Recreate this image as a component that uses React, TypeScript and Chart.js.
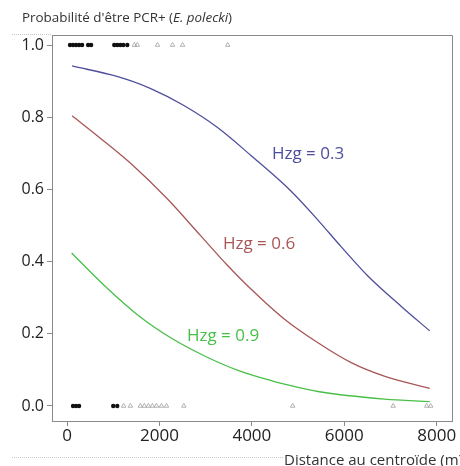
import React, { useEffect, useRef } from "react";
import { Chart, registerables } from "chart.js";

Chart.register(...registerables);

// Fitted curves
const blueDist = [110, 1080, 1800, 2520, 3250, 3980, 4850, 5430, 5940, 6510, 7240, 7850];
const blueProb = [0.942, 0.913, 0.88, 0.833, 0.772, 0.694, 0.595, 0.515, 0.44, 0.36, 0.275, 0.208];

const redDist = [110, 720, 1440, 2170, 2890, 3470, 3980, 4700, 5430, 6150, 6880, 7850];
const redProb = [0.804, 0.742, 0.665, 0.574, 0.472, 0.39, 0.324, 0.241, 0.175, 0.12, 0.082, 0.049];

const greenDist = [100, 830, 1550, 2280, 3000, 3730, 4450, 4960, 5430, 6870, 7850];
const greenProb = [0.424, 0.331, 0.25, 0.186, 0.137, 0.097, 0.069, 0.053, 0.04, 0.019, 0.012];

// Observations
const posDots = [65, 130, 196, 261, 326, 457, 522, 1022, 1087, 1152, 1217, 1304];
const posTriangles = [1457, 1522, 1957, 2283, 2500, 3478];
const negDots = [130, 196, 261, 1000, 1087];
const negTriangles = [1225, 1370, 1587, 1674, 1761, 1848, 1935, 2043, 2152, 2528, 4884, 7058, 7783, 7870];

const xTicks = [0, 2000, 4000, 6000, 8000];
const yTicks = [0, 0.2, 0.4, 0.6, 0.8, 1.0];

const curveLabels = ["Hzg = 0.3", "Hzg = 0.6", "Hzg = 0.9"];
const curveColors = ["#4e4e9c", "#a85656", "#48c048"];
const labelDist = [5215, 4155, 3376];
const labelProb = [0.697, 0.447, 0.192];

const titleText = "Probabilité d'être PCR+ (";
const titleItalic = "E. polecki";
const xTitle = "Distance au centroïde (m)";

const FONT = "'Open Sans', 'Noto Sans', sans-serif";

const pts = (xs: number[], ys: number[]) => xs.map((x, i) => ({ x, y: ys[i] }));
const constPts = (xs: number[], y: number) => xs.map((x) => ({ x, y }));

const decorPlugin = {
  id: "decor",
  afterDraw(chart: any) {
    const { ctx, chartArea, scales } = chart;
    ctx.save();
    // frame top & right
    ctx.strokeStyle = "#8a8a8a";
    ctx.lineWidth = 1;
    ctx.beginPath();
    ctx.moveTo(chartArea.left, chartArea.top + 0.5);
    ctx.lineTo(chartArea.right + 0.5, chartArea.top + 0.5);
    ctx.lineTo(chartArea.right + 0.5, chartArea.bottom);
    ctx.stroke();
    // thin dotted separator lines
    ctx.strokeStyle = "#c8c8c8";
    ctx.setLineDash([1, 1]);
    ctx.beginPath();
    ctx.moveTo(12, 34.5);
    ctx.lineTo(chartArea.left, 34.5);
    ctx.moveTo(12, 457.5);
    ctx.lineTo(283, 457.5);
    ctx.stroke();
    ctx.setLineDash([]);
    // title
    ctx.fillStyle = "#333";
    ctx.textBaseline = "middle";
    ctx.textAlign = "left";
    const tf = 13.4;
    ctx.font = `${tf}px ${FONT}`;
    let x = 22;
    ctx.fillText(titleText, x, 18);
    x += ctx.measureText(titleText).width;
    ctx.font = `italic ${tf}px ${FONT}`;
    ctx.fillText(titleItalic, x, 18);
    x += ctx.measureText(titleItalic).width;
    ctx.font = `${tf}px ${FONT}`;
    ctx.fillText(")", x, 18);
    // x axis title
    ctx.font = `15px ${FONT}`;
    ctx.fillText(xTitle, 284, 461);
    // curve labels
    ctx.textAlign = "center";
    ctx.font = `17px ${FONT}`;
    curveLabels.forEach((t, i) => {
      ctx.fillStyle = curveColors[i];
      ctx.fillText(t, scales.x.getPixelForValue(labelDist[i]), scales.y.getPixelForValue(labelProb[i]));
    });
    ctx.restore();
  },
};

export default function App() {
  const ref = useRef<HTMLCanvasElement | null>(null);
  useEffect(() => {
    if (!ref.current) return;
    const lineDs = (label: string, data: any, color: string) => ({
      type: "line" as const,
      label,
      data,
      borderColor: color,
      borderWidth: 1.3,
      pointRadius: 0,
      fill: false,
      cubicInterpolationMode: "monotone" as const,
    });
    const chart = new Chart(ref.current, {
      type: "scatter",
      data: {
        datasets: [
          {
            label: "pos-tri",
            data: constPts(posTriangles, 1),
            pointStyle: "triangle",
            pointRadius: 2.6,
            borderColor: "#a0a0a0",
            backgroundColor: "rgba(255,255,255,0)",
            borderWidth: 0.8,
          },
          {
            label: "neg-tri",
            data: constPts(negTriangles, 0),
            pointStyle: "triangle",
            pointRadius: 2.6,
            borderColor: "#a0a0a0",
            backgroundColor: "rgba(255,255,255,0)",
            borderWidth: 0.8,
          },
          {
            label: "pos-dot",
            data: constPts(posDots, 1),
            pointRadius: 2.2,
            backgroundColor: "#111",
            borderColor: "#111",
            borderWidth: 0,
          },
          {
            label: "neg-dot",
            data: constPts(negDots, 0),
            pointRadius: 2.2,
            backgroundColor: "#111",
            borderColor: "#111",
            borderWidth: 0,
          },
          lineDs("Hzg 0.3", pts(blueDist, blueProb), curveColors[0]),
          lineDs("Hzg 0.6", pts(redDist, redProb), curveColors[1]),
          lineDs("Hzg 0.9", pts(greenDist, greenProb), curveColors[2]),
        ] as any,
      },
      options: {
        animation: false,
        responsive: false,
        devicePixelRatio: 1,
        layout: { padding: { left: 0, right: 8, top: 35, bottom: 0 } },
        plugins: {
          legend: { display: false },
          tooltip: { enabled: false },
          title: { display: false },
        },
        scales: {
          x: {
            type: "linear",
            min: -325,
            max: 8331,
            afterBuildTicks: (s: any) => {
              s.ticks = xTicks.map((v) => ({ value: v }));
            },
            afterFit: (s: any) => {
              s.height = 45;
            },
            ticks: {
              color: "#222",
              font: { family: FONT, size: 17 },
              padding: 0,
              maxRotation: 0,
              callback: (v: any) => String(v),
            },
            grid: { display: true, drawOnChartArea: false, drawTicks: true, tickLength: 5, color: "#8a8a8a" },
            border: { display: true, color: "#8a8a8a" },
          },
          y: {
            type: "linear",
            min: -0.0417,
            max: 1.0278,
            afterBuildTicks: (s: any) => {
              s.ticks = yTicks.map((v) => ({ value: v }));
            },
            afterFit: (s: any) => {
              s.width = 52;
            },
            ticks: {
              color: "#222",
              font: { family: FONT, size: 16 },
              padding: 3,
              callback: (v: any) => Number(v).toFixed(1),
            },
            grid: { display: true, drawOnChartArea: false, drawTicks: true, tickLength: 5, color: "#8a8a8a" },
            border: { display: true, color: "#8a8a8a" },
          },
        },
      },
      plugins: [decorPlugin],
    });
    return () => chart.destroy();
  }, []);
  return (
    <div style={{ position: "absolute", left: 0, top: 0, width: 460, height: 466, background: "#fff" }}>
      <canvas ref={ref} width={460} height={466} style={{ width: 460, height: 466, display: "block" }} />
    </div>
  );
}
